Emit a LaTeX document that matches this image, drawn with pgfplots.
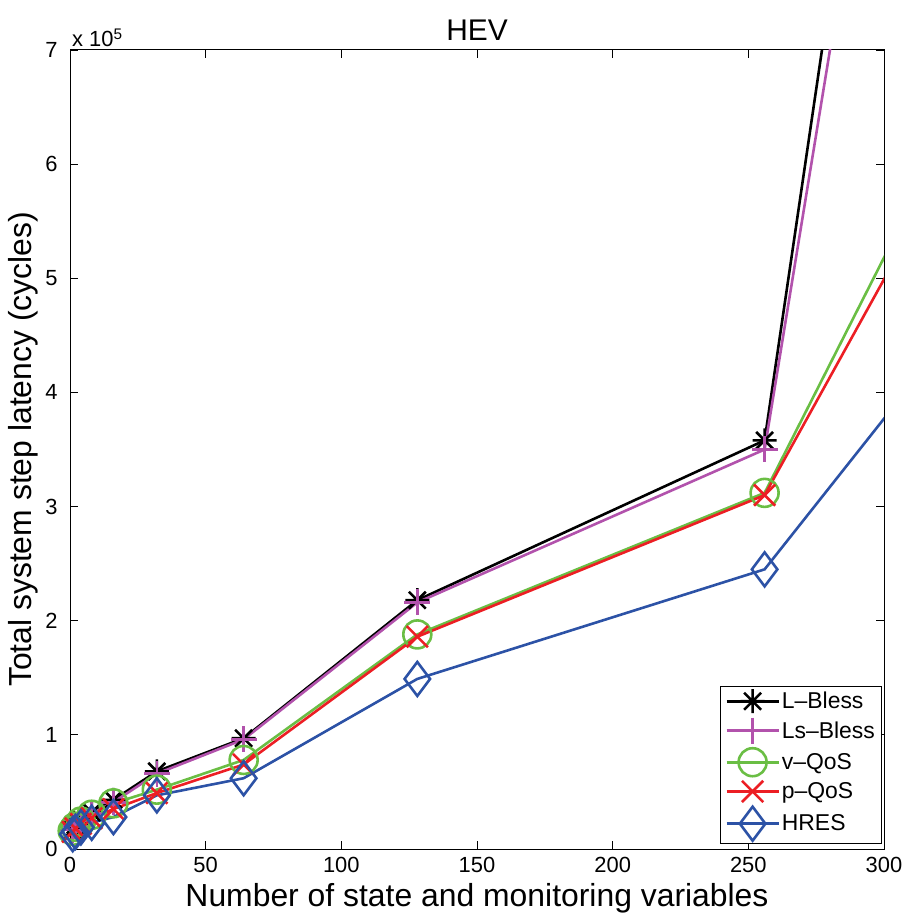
\documentclass[border=0pt]{standalone}
\usepackage{fontspec}
\setmainfont{Liberation Sans}
\usepackage{pgfplots}
\pgfplotsset{compat=1.18}

\definecolor{cLBless}{RGB}{0,0,0}
\definecolor{cLsBless}{RGB}{178,82,172}
\definecolor{cvQoS}{RGB}{106,190,68}
\definecolor{cpQoS}{RGB}{236,30,36}
\definecolor{cHRES}{RGB}{44,82,166}

% MATLAB-style asterisk: a plus and a cross on top of each other
\pgfdeclareplotmark{mstar}{%
  \pgfpathmoveto{\pgfqpoint{-\pgfplotmarksize}{0pt}}%
  \pgfpathlineto{\pgfqpoint{\pgfplotmarksize}{0pt}}%
  \pgfpathmoveto{\pgfqpoint{0pt}{-\pgfplotmarksize}}%
  \pgfpathlineto{\pgfqpoint{0pt}{\pgfplotmarksize}}%
  \pgfpathmoveto{\pgfqpoint{-.7071\pgfplotmarksize}{-.7071\pgfplotmarksize}}%
  \pgfpathlineto{\pgfqpoint{.7071\pgfplotmarksize}{.7071\pgfplotmarksize}}%
  \pgfpathmoveto{\pgfqpoint{-.7071\pgfplotmarksize}{.7071\pgfplotmarksize}}%
  \pgfpathlineto{\pgfqpoint{.7071\pgfplotmarksize}{-.7071\pgfplotmarksize}}%
  \pgfusepathqstroke}

\begin{document}
\begin{tikzpicture}
\useasboundingbox (0,0) rectangle (906bp,917bp);
\begin{axis}[
  at={(70bp,68bp)}, anchor=south west,
  scale only axis, width=814bp, height=799bp,
  xmin=0, xmax=300, ymin=0, ymax=700000,
  xtick={0,50,...,300},
  ytick={0,100000,200000,300000,400000,500000,600000,700000},
  yticklabels={0,1,2,3,4,5,6,7},
  scaled y ticks=false,
  extra description/.code={%
    \node[anchor=south west, inner sep=0pt, font=\fontsize{22}{26}\selectfont]
      at ([xshift=2bp,yshift=3bp]rel axis cs:0,1) {x 10\textsuperscript{5}};},
  tick align=inside,
  major tick length=8bp,
  axis line style={line width=1bp},
  every tick/.style={line width=0.8bp, black},
  /pgf/number format/assume math mode=true,
  tick label style={font=\fontsize{22}{26}\selectfont},
  xticklabel style={yshift=-5bp},
  yticklabel style={xshift=-9bp},
  label style={font=\fontsize{32}{38}\selectfont},
  xlabel style={yshift=-4bp},
  title style={font=\fontsize{30}{36}\selectfont},
  title={HEV},
  xlabel={Number of state and monitoring variables},
  ylabel={Total system step latency (cycles)},
  legend style={at={(rel axis cs:0.998,0.006)}, anchor=south east,
    font=\fontsize{23}{27}\selectfont, draw=black, line width=1bp,
    inner xsep=5bp, inner ysep=3bp, row sep=4.5bp},
  legend cell align=left,
  legend image code/.code={%
    \draw[mark repeat=2,mark phase=2,#1]
      plot coordinates {(0bp,0bp) (26bp,0bp) (52bp,0bp)};},
  every axis plot/.append style={line width=2.6bp},
]
% L-Bless
\addplot[cLBless, mark=mstar, mark size=12bp] coordinates {
  (1,17000) (2,21000) (4,26000) (8,32000) (16,43000) (32,68000)
  (64,97000) (128,218000) (256,358000) (512,4500000)};
\addlegendentry{L--Bless}
% Ls-Bless
\addplot[cLsBless, mark=+, mark size=13bp] coordinates {
  (1,16500) (2,20000) (4,25000) (8,31000) (16,41000) (32,66000)
  (64,96000) (128,216000) (256,350000) (512,4070000)};
\addlegendentry{Ls--Bless}
% v-QoS
\addplot[cvQoS, mark=o, mark size=14bp] coordinates {
  (1,16000) (2,19500) (4,24000) (8,30000) (16,40000) (32,52000)
  (64,78000) (128,188000) (256,312000) (512,1511000)};
\addlegendentry{v--QoS}
% p-QoS
\addplot[cpQoS, mark=x, mark size=15bp] coordinates {
  (1,15000) (2,18000) (4,22000) (8,27000) (16,35000) (32,49000)
  (64,74000) (128,186000) (256,310000) (512,1410000)};
\addlegendentry{p--QoS}
% HRES
\addplot[cHRES, mark=diamond, mark size=17bp] coordinates {
  (1,13000) (2,15000) (4,19000) (8,23000) (16,28000) (32,47000)
  (64,62000) (128,149000) (256,245000) (512,1013000)};
\addlegendentry{HRES}
\end{axis}
\end{tikzpicture}
\end{document}
